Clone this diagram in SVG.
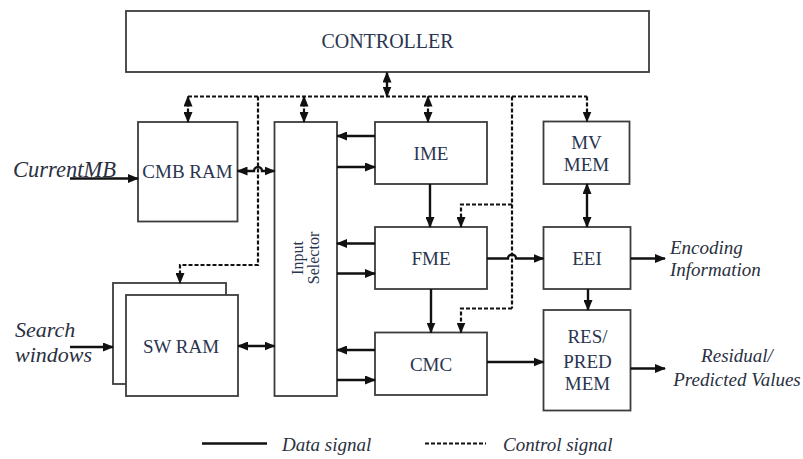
<svg xmlns="http://www.w3.org/2000/svg" width="803" height="459" viewBox="0 0 803 459">
<style>
.box{fill:#fff;stroke:#3c3c3c;stroke-width:1.8}
.lbl{font-family:"Liberation Serif","Times New Roman",serif;font-size:19px;fill:#2a3550;text-anchor:middle}
.it{font-family:"Liberation Serif","Times New Roman",serif;font-style:italic;font-size:19px;fill:#2a3040}
.data{fill:none;stroke:#111;stroke-width:2.4}
.ctl{fill:none;stroke:#111;stroke-width:2.2;stroke-dasharray:4 2}
.a{marker-end:url(#ah)}
.aa{marker-start:url(#ah);marker-end:url(#ah)}
</style>
<defs>
<marker id="ah" markerUnits="userSpaceOnUse" markerWidth="11" markerHeight="9" refX="10" refY="4.5" orient="auto-start-reverse" viewBox="0 0 11 9">
<path d="M0,0 L11,4.5 L0,9 z" fill="#111"/>
</marker>
</defs>
<rect width="803" height="459" fill="#fff"/>

<g id="controller">
<rect class="box" x="126" y="11" width="523" height="61"/>
<text class="lbl" x="387.5" y="48" style="font-size:20px">CONTROLLER</text>
</g>

<g id="cmb-ram">
<rect class="box" x="138" y="122" width="99.5" height="99.5"/>
<text class="lbl" x="187.5" y="178">CMB RAM</text>
</g>

<g id="sw-ram">
<rect class="box" x="113" y="283" width="113" height="101"/>
<rect class="box" x="126" y="295" width="112" height="101"/>
<text class="lbl" x="181" y="352.5">SW RAM</text>
</g>

<g id="input-selector">
<rect class="box" x="274.5" y="122" width="62.5" height="274"/>
<text class="lbl" style="font-size:16px" transform="translate(302.5,258) rotate(-90)">Input</text>
<text class="lbl" style="font-size:16px" transform="translate(318.5,258) rotate(-90)">Selector</text>
</g>

<g id="ime">
<rect class="box" x="375" y="122" width="112" height="62"/>
<text class="lbl" x="431" y="159.5">IME</text>
</g>

<g id="fme">
<rect class="box" x="375" y="227" width="112" height="62"/>
<text class="lbl" x="431" y="264.5">FME</text>
</g>

<g id="cmc">
<rect class="box" x="375" y="332.5" width="112" height="62.5"/>
<text class="lbl" x="431" y="370.5">CMC</text>
</g>

<g id="mv-mem">
<rect class="box" x="543.5" y="121.5" width="86" height="62.5"/>
<text class="lbl" x="586.5" y="148.5">MV</text>
<text class="lbl" x="586.5" y="170.5">MEM</text>
</g>

<g id="eei">
<rect class="box" x="543.5" y="227" width="87" height="62"/>
<text class="lbl" x="587" y="264.5">EEI</text>
</g>

<g id="res-pred-mem">
<rect class="box" x="543.5" y="310" width="87" height="100.5"/>
<text class="lbl" x="587.5" y="343">RES/</text>
<text class="lbl" x="587.5" y="368">PRED</text>
<text class="lbl" x="587.5" y="390">MEM</text>
</g>

<g id="labels">
<text class="it" x="13" y="177" style="font-size:22.5px">CurrentMB</text>
<text class="it" x="15" y="336.5" style="font-size:22px">Search</text>
<text class="it" x="15" y="361.5" style="font-size:22px">windows</text>
<text class="it" x="670" y="254">Encoding</text>
<text class="it" x="670" y="276">Information</text>
<text class="it" x="737" y="362" text-anchor="middle">Residual/</text>
<text class="it" x="737" y="386" text-anchor="middle">Predicted Values</text>
</g>

<g id="connectors">
<line class="data aa" x1="387" y1="72.5" x2="387" y2="96.5" stroke-width="2"/>
<polyline class="ctl" points="188,96.5 587,96.5"/>
<line class="ctl aa" x1="188" y1="96.5" x2="188" y2="122"/>
<line class="ctl aa" x1="304" y1="96.5" x2="304" y2="122"/>
<line class="ctl aa" x1="428" y1="96.5" x2="428" y2="122"/>
<polyline class="ctl a" points="587,96.5 587,121.5"/>
<polyline class="ctl a" points="258,96.5 258,265 180,265 180,283"/>
<polyline class="ctl" points="512,96.5 512,308.5"/>
<polyline class="ctl a" points="512,204.5 461,204.5 461,227"/>
<polyline class="ctl a" points="512,308.5 461,308.5 461,332.5"/>

<line class="data a" x1="70" y1="178.5" x2="138" y2="178.5"/>
<line class="data a" x1="70" y1="347" x2="113" y2="347"/>
<path class="data aa" d="M237.5,171 H254 A4,4 0 0 1 262,171 H274.5"/>
<line class="data aa" x1="238" y1="346" x2="274.5" y2="346"/>
<line class="data a" x1="375" y1="136" x2="337" y2="136"/>
<line class="data a" x1="337" y1="167" x2="375" y2="167"/>
<line class="data a" x1="375" y1="243.5" x2="337" y2="243.5"/>
<line class="data a" x1="337" y1="273.5" x2="375" y2="273.5"/>
<line class="data a" x1="375" y1="350" x2="337" y2="350"/>
<line class="data a" x1="337" y1="380" x2="375" y2="380"/>
<line class="data a" x1="430" y1="184" x2="430" y2="227"/>
<line class="data a" x1="431" y1="289" x2="431" y2="332.5"/>
<path class="data a" d="M487,258.5 H508 A4,4 0 0 1 516,258.5 H543.5"/>
<line class="data aa" x1="587" y1="184" x2="587" y2="227"/>
<line class="data a" x1="588" y1="289" x2="588" y2="310"/>
<line class="data a" x1="630.5" y1="258.5" x2="665" y2="258.5"/>
<line class="data a" x1="487" y1="362" x2="543.5" y2="362"/>
<line class="data a" x1="630.5" y1="368.5" x2="665" y2="368.5"/>
</g>

<g id="legend">
<line class="data" x1="202" y1="443.5" x2="267" y2="443.5"/>
<text class="it" x="282" y="450.5">Data signal</text>
<line class="ctl" x1="425" y1="443.5" x2="486" y2="443.5"/>
<text class="it" x="503" y="450.5">Control signal</text>
</g>
</svg>
